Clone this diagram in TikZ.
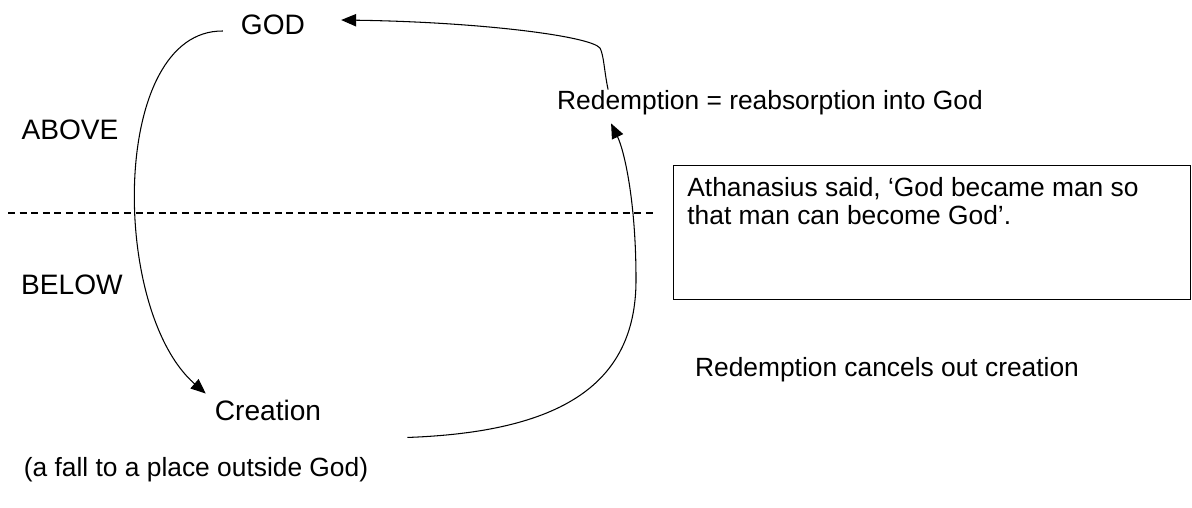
\documentclass[tikz,border=0pt]{standalone}
\usepackage{fontspec}
\setmainfont{Liberation Sans}
\usetikzlibrary{arrows.meta,positioning,calc}

\tikzset{
  lbl/.style={inner sep=5pt, font=\fontsize{15}{16}\selectfont},
  headlbl/.style={lbl, font=\fontsize{16}{18}\selectfont},
  flow/.style={line width=0.6pt, -{Triangle[length=8.5pt,width=7pt]}},
  divider/.style={dash pattern=on 4pt off 2.6pt, line width=0.6pt},
}

\begin{document}
\begin{tikzpicture}[x=0.02cm, y=-0.02cm]
\useasboundingbox (0,0) rectangle (1192,507);
% levels and the cycle's stations
\node[headlbl] (god) at (273,25) {GOD};
\node[headlbl] (above) at (70,130) {ABOVE};
\node[headlbl] (below) at (72,285) {BELOW};
\node[headlbl] (creation) at (268,410) {Creation};
\node[lbl] (fall) at (196,470) {(a fall to a place outside God)};
\node[lbl] (redemption) at (770,103) {Redemption = reabsorption into God};
\node[lbl] (cancels) at (887,370) {Redemption cancels out creation};
% quotation box
\node[draw, line width=0.6pt, minimum width=294pt, minimum height=76.5pt, anchor=north west] (quotebox) at (673,165) {};
\node[lbl, anchor=north west, align=left, inner xsep=8pt, inner ysep=7pt] (quote) at (quotebox.north west)
  {Athanasius said, `God became man so\\that man can become God'.};
% above / below divide
\draw[divider] (8,213) -- (657,213);
% arrows
\draw[flow] ($(god.west)+(-9,6)$) .. controls (110,30) and (110,310) .. ($(creation.north west)+(0,3)$);
\draw[flow] ($(creation.south east)+(77,8)$) .. controls (560,432) and (636,385) .. (636,280)
  .. controls (636,200) and (624,150) .. ($(redemption.south west)+(63,-1)$);
\draw[flow] ($(redemption.north west)+(60,8)$) .. controls (604,70) and (604,56) .. (600,48)
  .. controls (590,36) and (480,22) .. ($(god.east)+(27,-5)$);
\end{tikzpicture}
\end{document}
